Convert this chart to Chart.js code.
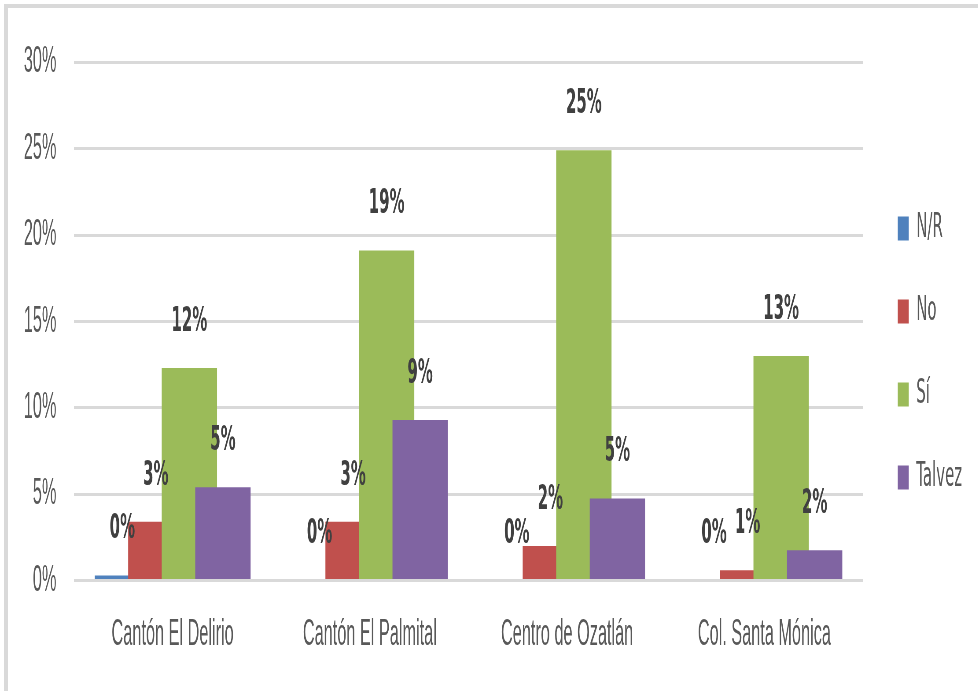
<!DOCTYPE html>
<html>
<head>
<meta charset="utf-8">
<script src="https://cdn.jsdelivr.net/npm/chart.js@4/dist/chart.umd.min.js"></script>
<style>
    html, body { margin: 0; padding: 0; background: #ffffff; overflow: hidden; }
    #frame {
        position: absolute; left: 4px; top: 4px; width: 990px; height: 700px;
        border-top: 4px solid #d9d9d9; border-left: 4px solid #d9d9d9;
    }
    #wrap { position: absolute; left: 0; top: 0; height: 691px; transform-origin: 0 0; }
</style>
</head>
<body>
<div id="frame"></div>
<div id="wrap"><canvas id="survey-chart"></canvas></div>
<script>
// the original picture is squeezed sideways, so the chart is drawn wide and scaled down in x
const SQUASH = 0.44;

const categories = ["Cantón El Delirio", "Cantón El Palmital", "Centro de Ozatlán", "Col. Santa Mónica"];
const seriesNames = ["N/R", "No", "Sí", "Talvez"];
const nrValues = [0.3, 0, 0, 0];
const noValues = [3.4, 3.4, 2.0, 0.6];
const siValues = [12.3, 19.1, 24.9, 13.0];
const talvezValues = [5.4, 9.3, 4.75, 1.75];
const yTickValues = [0, 5, 10, 15, 20, 25, 30];

const seriesColors = ["#4f81bd", "#c0504d", "#9bbb59", "#8064a2"];
const axisFont = "'Liberation Sans', Arial, sans-serif";
const labelFont = "'DejaVu Sans', sans-serif";

let wrap = document.getElementById("wrap");
wrap.style.width = (978 / SQUASH) + "px";
wrap.style.transform = "scaleX(" + SQUASH + ")";

// Excel-style overlap: later series painted over earlier ones
const drawInOrder = {
    id: "drawInOrder",
    beforeDatasetsDraw(chart) {
        chart.getSortedVisibleDatasetMetas().forEach((meta) => meta.controller.draw());
        return false;
    },
};

const valueLabels = {
    id: "valueLabels",
    afterDraw(chart) {
        const ctx = chart.ctx;
        ctx.save();
        ctx.font = "bold 34px " + labelFont;
        ctx.fillStyle = "#404040";
        ctx.textAlign = "center";
        ctx.textBaseline = "middle";
        chart.data.datasets.forEach((ds, i) => {
            chart.getDatasetMeta(i).data.forEach((bar, j) => {
                ctx.fillText(Math.round(ds.data[j]) + "%", bar.x, bar.y - 46);
            });
        });
        ctx.restore();
    },
};

const allValues = [nrValues, noValues, siValues, talvezValues];

new Chart(document.getElementById("survey-chart"), {
    type: "bar",
    data: {
        labels: categories,
        datasets: seriesNames.map((name, i) => ({
            label: name,
            data: allValues[i],
            backgroundColor: seriesColors[i],
            borderWidth: 0,
            barPercentage: 1.65,
            categoryPercentage: 0.68,
        })),
    },
    options: {
        responsive: true,
        maintainAspectRatio: false,
        animation: false,
        layout: {
            padding: { left: 14, right: 27, top: 17, bottom: 2 },
        },
        scales: {
            x: {
                grid: { display: false, drawTicks: false },
                border: { display: false },
                ticks: {
                    color: "#595959",
                    padding: 32,
                    font: { family: axisFont, size: 37 },
                },
            },
            y: {
                min: 0,
                max: 30,
                afterBuildTicks: (axis) => {
                    axis.ticks = yTickValues.map((v) => ({ value: v }));
                },
                grid: { color: "#d9d9d9", lineWidth: 3, drawTicks: false },
                border: { display: false },
                ticks: {
                    color: "#595959",
                    padding: 40,
                    font: { family: axisFont, size: 37 },
                    callback: (v) => v + "%",
                },
            },
            // empty spacer between plot and legend
            gap: {
                type: "linear",
                position: "right",
                grid: { display: false },
                border: { display: false },
                ticks: { display: false },
                afterFit: (axis) => {
                    axis.width = 30;
                },
            },
        },
        plugins: {
            legend: {
                position: "right",
                labels: {
                    color: "#595959",
                    boxWidth: 25,
                    boxHeight: 24,
                    padding: 49,
                    font: { family: labelFont, size: 34 },
                },
            },
            tooltip: { enabled: false },
        },
    },
    plugins: [drawInOrder, valueLabels],
});
</script>
</body>
</html>
